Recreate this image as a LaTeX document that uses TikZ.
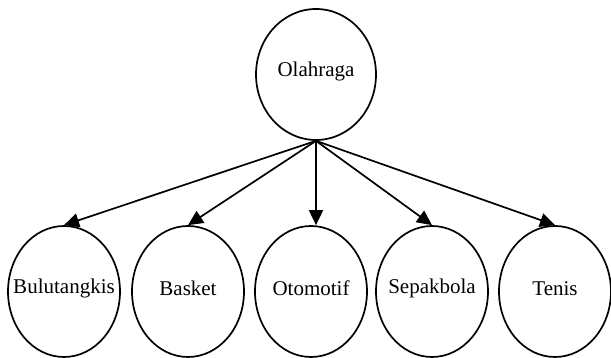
\documentclass[tikz,border=0pt]{standalone}
\usepackage{fontspec}
\setmainfont{Liberation Serif}
\usepackage{tikz}
\usetikzlibrary{shapes,arrows.meta,positioning}

\tikzset{
    sport/.style={draw, ellipse, line width=1.7pt, minimum width=112pt, minimum height=131pt, inner sep=0pt},
    sportlabel/.style={label={[yshift=3pt]center:#1}},
    link/.style={line width=1.7pt, -{Triangle[length=15pt,width=14pt]}}
}

\begin{document}
\begin{tikzpicture}[x=1pt,y=1pt,font=\fontsize{21}{25}\selectfont]
    \useasboundingbox (0,0) rectangle (611,358);

    \node [sport, minimum width=120pt, sportlabel=Olahraga] (olahraga) at (316,283.5) {};

    \node [sport, sportlabel=Bulutangkis] (bulu) at (64,66.5) {};
    \node [sport, sportlabel=Basket] (basket) at (188,66.5) {};
    \node [sport, sportlabel=Otomotif] (otomotif) at (311,66.5) {};
    \node [sport, sportlabel=Sepakbola] (sepakbola) at (432,66.5) {};
    \node [sport, sportlabel=Tenis] (tenis) at (555,66.5) {};

    \draw [link] (olahraga.south) -- (bulu.north);
    \draw [link] (olahraga.south) -- (basket.north);
    \draw [link] (olahraga.south) -- (otomotif.north -| olahraga.south);
    \draw [link] (olahraga.south) -- (sepakbola.north);
    \draw [link] (olahraga.south) -- (tenis.north);
\end{tikzpicture}
\end{document}
